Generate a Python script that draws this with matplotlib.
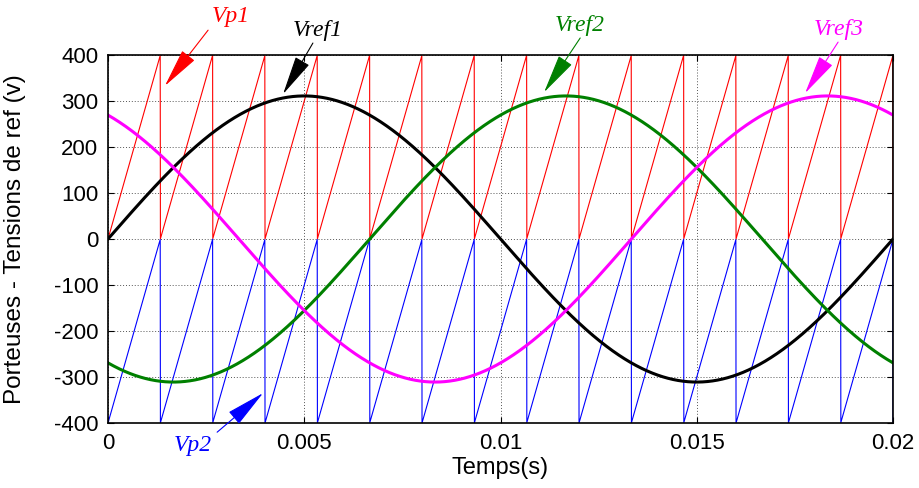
import numpy as np
import matplotlib.pyplot as plt

plt.rcParams["axes.unicode_minus"] = False
plt.rcParams["font.family"] = ["Liberation Sans", "DejaVu Sans"]

# valeurs
amplitude = 311.0          # crête des tensions de référence (V)
f_ref = 50.0               # fréquence des références (Hz)
phases_deg = [0, -120, 120]  # Vref1, Vref2, Vref3
ref_colors = ["black", "green", "magenta"]

f_porteuse = 750.0         # 15 dents sur 0.02 s
vp1_range = [0, 400]
vp2_range = [-400, 0]

t_end = 0.02
x_ticks = [0, 0.005, 0.01, 0.015, 0.02]
x_labels = ["0", "0.005", "0.01", "0.015", "0.02"]
y_ticks = [-400, -300, -200, -100, 0, 100, 200, 300, 400]

t = np.linspace(0, t_end, 4001)


def porteuse(lo, hi):
    # dent de scie montante, retour vertical à chaque période
    frac = (t * f_porteuse) % 1.0
    return lo + (hi - lo) * frac


fig = plt.figure(figsize=(9.2, 4.88), dpi=100)
ax = fig.add_axes([0.1174, 0.1332, 0.8533, 0.7541])

ax.plot(t, porteuse(*vp1_range), color="red", lw=0.8)
ax.plot(t, porteuse(*vp2_range), color="blue", lw=0.8)

for ph, c in zip(phases_deg, ref_colors):
    v = amplitude * np.sin(2 * np.pi * f_ref * t + np.deg2rad(ph))
    ax.plot(t, v, color=c, lw=2.2)

ax.set_xlim(0, t_end)
ax.set_ylim(-400, 400)
ax.set_xticks(x_ticks)
ax.set_xticklabels(x_labels)
ax.set_yticks(y_ticks)
ax.tick_params(direction="in", top=True, right=True, labelsize=16, length=4, pad=7)
ax.grid(True, color="#555555", ls=(0, (1, 2)), lw=0.7)
for s in ax.spines.values():
    s.set_linewidth(1.2)

ax.set_xlabel("Temps(s)", fontsize=17)
ax.set_ylabel("Porteuses - Tensions de ref (v)", fontsize=17.5)
ax.xaxis.set_label_coords(0.5, -0.092)
ax.yaxis.set_label_coords(-0.104, 0.5)

# annotations : texte, centre du texte, départ et pointe de la flèche
annots = [
    ("Vp1", "red", (0.00313, 483), (0.00255, 454), (0.00145, 333)),
    ("Vref1", "black", (0.00535, 454), (0.00522, 426), (0.00446, 315)),
    ("Vref2", "green", (0.01203, 465), (0.01203, 437), (0.01111, 319)),
    ("Vref3", "magenta", (0.01862, 456), (0.01860, 428), (0.01776, 317)),
    ("Vp2", "blue", (0.00217, -448), (0.00278, -420), (0.00395, -335)),
]
for name, c, xy_txt, xy_tail, xy_tip in annots:
    ax.text(*xy_txt, name, color=c, fontsize=17, family="Liberation Serif",
            style="italic", ha="center", va="center", clip_on=False)
    ax.annotate("", xy=xy_tip, xytext=xy_tail, annotation_clip=False,
                arrowprops=dict(arrowstyle="-|>,head_length=2.5,head_width=0.5",
                                mutation_scale=10, color=c, lw=0.8,
                                shrinkA=0, shrinkB=0))

fig.savefig("out.png", dpi=100)
